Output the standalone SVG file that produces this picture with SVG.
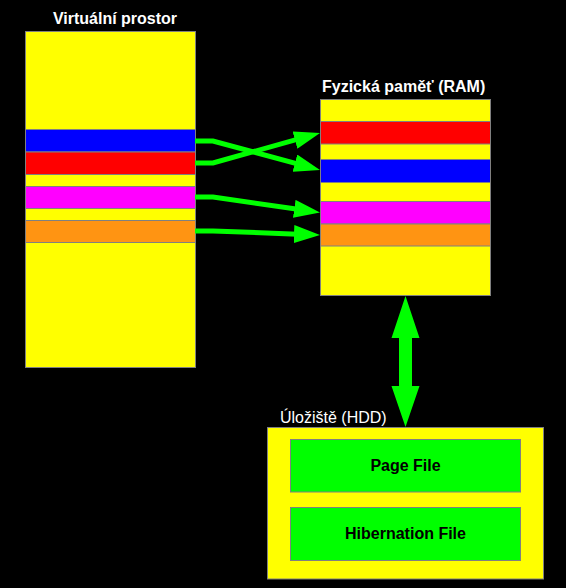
<svg xmlns="http://www.w3.org/2000/svg" width="566" height="588" viewBox="0 0 566 588">
<style>
.b{stroke:#808080;stroke-width:1}
.y{fill:#ffff00}.r{fill:#ff0000}.bl{fill:#0000ff}.m{fill:#ff00ff}.o{fill:#ff9412}.g{fill:#00ff00}
.t{font-family:"Liberation Sans",Arial,sans-serif;font-size:16px}
.w{fill:#ffffff}.k{fill:#000000}.bd{font-weight:bold}
.c{fill:none;stroke:#00ff00;stroke-width:5}
</style>
<defs>
<marker id="ah" markerUnits="userSpaceOnUse" markerWidth="26" markerHeight="18" viewBox="0 0 26 18" refX="16" refY="9" orient="auto">
<path d="M0,0 L26,9 L0,18 z" fill="#00ff00"/>
</marker>
</defs>
<rect width="566" height="588" fill="#000000"/>
<g id="virtual">
<text class="t w bd" x="115" y="24" text-anchor="middle">Virtuální prostor</text>
<rect class="b y" x="25.5" y="31.5" width="170" height="336"/>
<rect class="b bl" x="25.5" y="129.5" width="170" height="22.5"/>
<rect class="b r" x="25.5" y="152" width="170" height="22.5"/>
<rect class="b m" x="25.5" y="186.5" width="170" height="22"/>
<rect class="b o" x="25.5" y="220.5" width="170" height="22"/>
</g>
<g id="ram">
<text class="t w bd" x="322" y="92">Fyzická paměť (RAM)</text>
<rect class="b y" x="320.5" y="99.5" width="170" height="196"/>
<rect class="b r" x="320.5" y="121.5" width="170" height="22.5"/>
<rect class="b bl" x="320.5" y="159.5" width="170" height="23"/>
<rect class="b m" x="320.5" y="201.5" width="170" height="22.5"/>
<rect class="b o" x="320.5" y="224" width="170" height="22"/>
</g>
<g id="hdd">
<text class="t w" x="280" y="422.5">Úložiště (HDD)</text>
<rect class="b y" x="267.5" y="427.5" width="276" height="151.5"/>
<g id="pagefile">
<rect class="b g" x="290.5" y="439.5" width="230" height="52.5"/>
<text class="t k bd" x="405.5" y="470.5" text-anchor="middle">Page File</text>
</g>
<g id="hiberfile">
<rect class="b g" x="290.5" y="507.5" width="230" height="53"/>
<text class="t k bd" x="405.5" y="538.5" text-anchor="middle">Hibernation File</text>
</g>
</g>
<g id="connectors">
<polyline class="c" points="195,141 213,141 310.35,167.4" marker-end="url(#ah)"/>
<polyline class="c" points="195,163 213,163 310.37,135.7" marker-end="url(#ah)"/>
<polyline class="c" points="195,197 213,197 310.1,211.07" marker-end="url(#ah)"/>
<polyline class="c" points="195,231 213,231 310,234.63" marker-end="url(#ah)"/>
<polygon class="g" points="405.5,296 419.5,338 412,338 412,386 419.5,386 405.5,427 391.5,386 399,386 399,338 391.5,338"/>
</g>
</svg>
